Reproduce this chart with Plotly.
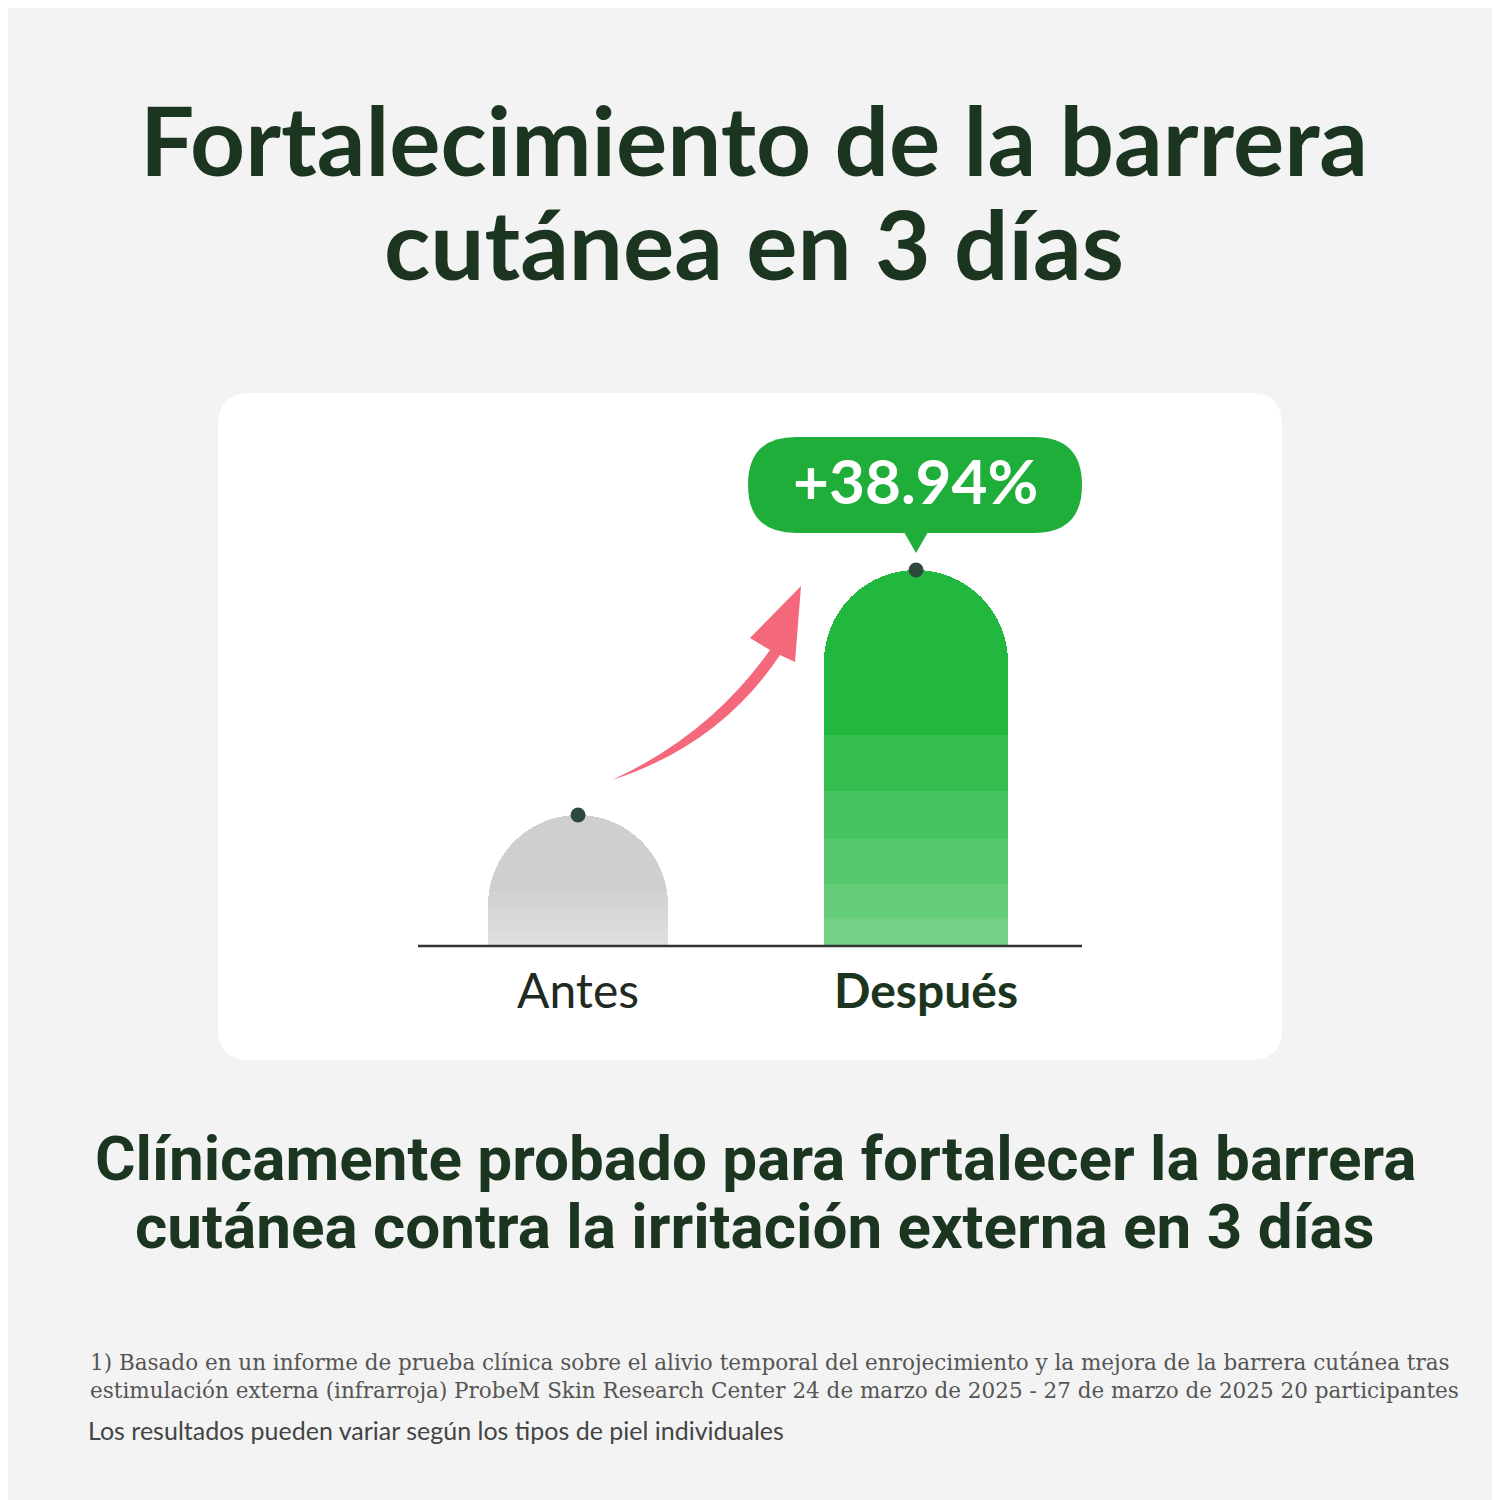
import plotly.graph_objects as go

categories = ["Antes", "Después"]
values = [100, 138.94]
change_label = "+38.94%"
title_lines = ["Fortalecimiento de la barrera", "cutánea en 3 días"]
subtitle_lines = ["Clínicamente probado para fortalecer la barrera",
                  "cutánea contra la irritación externa en 3 días"]
footnote = ("1) Basado en un informe de prueba clínica sobre el alivio temporal del enrojecimiento y la mejora de la barrera cutánea tras<br>"
            "estimulación externa (infrarroja) ProbeM Skin Research Center 24 de marzo de 2025 - 27 de marzo de 2025 20 participantes")
disclaimer = "Los resultados pueden variar según los tipos de piel individuales"

W = 1500
BASE = 79.18
OFF = 8  # page margin the browser adds around the figure


def px(x):
    return (x - OFF) / W


def py(y):
    return 1 - (y - OFF) / W


def rrect(x0, y0, x1, y1, r):
    # rounded rectangle path in paper coords from pixel coords
    return (f"M {px(x0 + r)} {py(y0)} L {px(x1 - r)} {py(y0)} "
            f"Q {px(x1)} {py(y0)} {px(x1)} {py(y0 + r)} L {px(x1)} {py(y1 - r)} "
            f"Q {px(x1)} {py(y1)} {px(x1 - r)} {py(y1)} L {px(x0 + r)} {py(y1)} "
            f"Q {px(x0)} {py(y1)} {px(x0)} {py(y1 - r)} L {px(x0)} {py(y0 + r)} "
            f"Q {px(x0)} {py(y0)} {px(x0 + r)} {py(y0)} Z")


fig = go.Figure()

fig.add_trace(go.Bar(
    x=[0, 1], y=values, width=[0.53, 0.545],
    marker=dict(color=["#cfcfd1", "#22b83f"], cornerradius=92, line_width=0),
    hoverinfo="skip",
))
# soft fade toward the bottom
for f in [0.75, 0.55, 0.38, 0.22, 0.1]:
    fig.add_trace(go.Bar(
        x=[0, 1], y=[BASE + (v - BASE) * f * (0.55 if i == 0 else 0.75) for i, v in enumerate(values)],
        width=[0.53, 0.545],
        marker=dict(color="white", opacity=0.09, line_width=0), hoverinfo="skip",
    ))
fig.add_trace(go.Scatter(
    x=[0, 1], y=values, mode="markers",
    marker=dict(color="#2e4a3e", size=15), hoverinfo="skip",
))

shapes = [
    dict(type="path", xref="paper", yref="paper", path=rrect(218, 393, 1282, 1060, 32),
         fillcolor="white", line_width=0, layer="below"),
    dict(type="path", xref="paper", yref="paper", path=rrect(748, 437, 1082, 533, 48),
         fillcolor="#1fae3a", line_width=0),
    dict(type="path", xref="paper", yref="paper",
         path=f"M {px(904)} {py(532)} L {px(928)} {py(532)} L {px(916)} {py(553)} Z",
         fillcolor="#1fae3a", line_width=0),
    dict(type="path", xref="paper", yref="paper",
         path=(f"M {px(612)} {py(780)} Q {px(710)} {py(735)} {px(770)} {py(650)} "
               f"L {px(750)} {py(638)} L {px(801)} {py(586)} L {px(795)} {py(662)} "
               f"L {px(780)} {py(655)} Q {px(720)} {py(745)} {px(612)} {py(780)} Z"),
         fillcolor="#f2586c", line_width=0, opacity=0.9),
]

annotations = [
    dict(text=f"<b>{change_label}</b>", x=px(915), y=py(480), xref="paper", yref="paper", showarrow=False,
         yanchor="middle", font=dict(family="Lato", size=62, color="white")),
    dict(text=categories[0], x=px(578), y=py(990), xref="paper", yref="paper", showarrow=False,
         yanchor="middle", font=dict(family="Lato", size=48, color="#1f2a22")),
    dict(text=f"<b>{categories[1]}</b>", x=px(926), y=py(990), xref="paper", yref="paper", showarrow=False,
         yanchor="middle", font=dict(family="Lato", size=48, color="#1c3520")),
    dict(text=footnote, x=px(88), y=py(1376), xref="paper", yref="paper", showarrow=False, align="left",
         xanchor="left", yanchor="middle", font=dict(family="DejaVu Serif", size=21.5, color="#555555")),
    dict(text=disclaimer, x=px(86), y=py(1430), xref="paper", yref="paper", showarrow=False,
         xanchor="left", yanchor="middle", font=dict(family="Lato", size=25, color="#444444")),
]
for line, yy in zip(title_lines, [138, 242]):
    annotations.append(dict(text=f"<b>{line}</b>", x=px(754), y=py(yy), xref="paper", yref="paper",
                            showarrow=False, yanchor="middle",
                            font=dict(family="Lato", size=96, color="#1c3520")))
for line, yy in zip(subtitle_lines, [1158, 1226]):
    annotations.append(dict(text=f"<b>{line}</b>", x=px(755), y=py(yy), xref="paper", yref="paper",
                            showarrow=False, yanchor="middle",
                            font=dict(family="Roboto", size=62, color="#1c3520")))

fig.update_layout(
    width=1500, height=1500, margin=dict(l=0, r=0, t=0, b=0),
    paper_bgcolor="#f3f3f3", plot_bgcolor="rgba(0,0,0,0)",
    barmode="overlay", showlegend=False, bargap=0,
    shapes=shapes, annotations=annotations,
    xaxis=dict(domain=[px(418), px(1082)], range=[-0.4735, 1.491], showgrid=False,
               zeroline=False, showticklabels=False, showline=False),
    yaxis=dict(domain=[py(946), py(400)], range=[BASE, 165.96], showgrid=False,
               zeroline=False, showticklabels=False, showline=False),
)
fig.add_shape(type="line", xref="paper", yref="paper", x0=px(418), x1=px(1082), y0=py(946), y1=py(946),
              line=dict(color="#333333", width=2.5))

fig.write_html("out.html")
